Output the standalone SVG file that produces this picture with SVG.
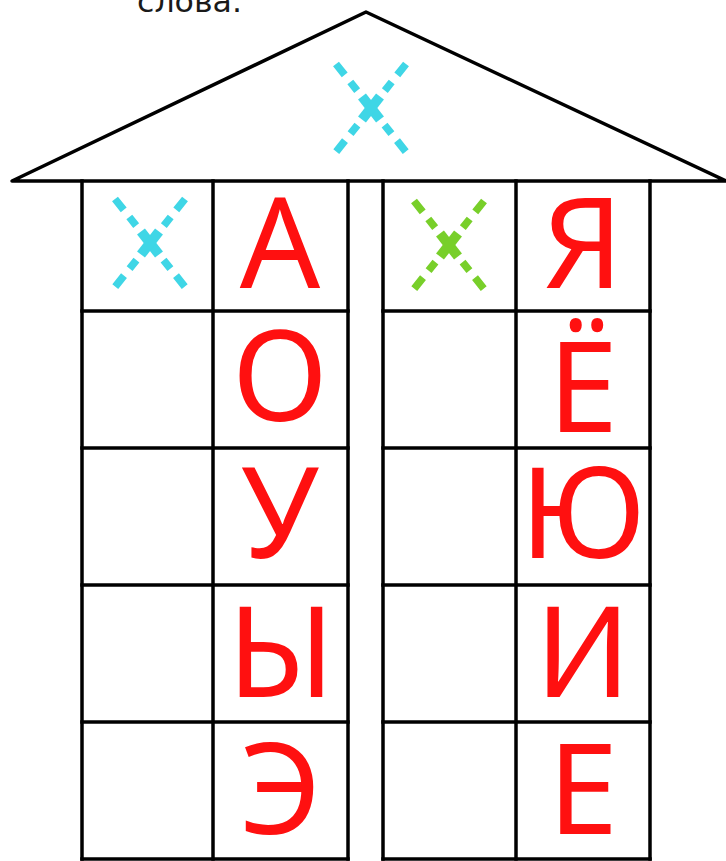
<svg xmlns="http://www.w3.org/2000/svg" xmlns:xlink="http://www.w3.org/1999/xlink" width="726" height="861" viewBox="0 0 726 861">
  <style>
    .ln { stroke: #000; stroke-width: 3.5; fill: none; stroke-linecap: square; }
    .roof { stroke: #000; stroke-width: 3.5; fill: #fff; stroke-linejoin: round; }
    .let { font-family: "Noto Sans", "Open Sans", "DejaVu Sans", sans-serif; font-size: 126px; fill: #ff1010; text-anchor: middle; }
    .cap { font-family: "DejaVu Sans", "Noto Sans", sans-serif; font-size: 30px; fill: #1a1a1a; }
  </style>
  <defs>
    <g id="xmark">
      <line x1="-35" y1="-44" x2="35" y2="44" stroke-width="7.5" stroke-dasharray="14 9 11 44 11 9 14"/>
      <line x1="35" y1="-44" x2="-35" y2="44" stroke-width="7.5" stroke-dasharray="14 9 11 44 11 9 14"/>
      <line x1="-9" y1="-11.5" x2="9" y2="11.5" stroke-width="10"/>
      <line x1="9" y1="-11.5" x2="-9" y2="11.5" stroke-width="10"/>
    </g>
  </defs>
  <rect width="726" height="861" fill="#fff"/>
  <text class="cap" x="137" y="12" textLength="105" lengthAdjust="spacingAndGlyphs">слова.</text>

  <g id="roof">
    <path class="roof" d="M12,181 L366,12 L726,181 Z"/>
    <use xlink:href="#xmark" transform="translate(371,108)" stroke="#3fd6e6"/>
  </g>

  <g id="column-left">
    <line class="ln" x1="82" y1="181" x2="82" y2="859"/>
    <line class="ln" x1="213" y1="181" x2="213" y2="859"/>
    <line class="ln" x1="348" y1="181" x2="348" y2="859"/>
    <line class="ln" x1="82" y1="311" x2="348" y2="311"/>
    <line class="ln" x1="82" y1="448" x2="348" y2="448"/>
    <line class="ln" x1="82" y1="585" x2="348" y2="585"/>
    <line class="ln" x1="82" y1="722" x2="348" y2="722"/>
    <line class="ln" x1="82" y1="859" x2="348" y2="859"/>
  </g>
  <g id="column-right">
    <line class="ln" x1="383" y1="181" x2="383" y2="859"/>
    <line class="ln" x1="516" y1="181" x2="516" y2="859"/>
    <line class="ln" x1="650" y1="181" x2="650" y2="859"/>
    <line class="ln" x1="383" y1="311" x2="650" y2="311"/>
    <line class="ln" x1="383" y1="448" x2="650" y2="448"/>
    <line class="ln" x1="383" y1="585" x2="650" y2="585"/>
    <line class="ln" x1="383" y1="722" x2="650" y2="722"/>
    <line class="ln" x1="383" y1="859" x2="650" y2="859"/>
  </g>

  <g id="cell-x-left"><use xlink:href="#xmark" transform="translate(150,243)" stroke="#3fd6e6"/></g>
  <g id="cell-A"><text class="let" x="280" y="288">А</text></g>
  <g id="cell-O"><text class="let" x="280" y="421">О</text></g>
  <g id="cell-U"><text class="let" x="280" y="558">У</text></g>
  <g id="cell-Y"><text class="let" x="281" y="697">Ы</text></g>
  <g id="cell-E"><text class="let" x="280" y="834">Э</text></g>

  <g id="cell-x-right"><use xlink:href="#xmark" transform="translate(449,245)" stroke="#78cf2a"/></g>
  <g id="cell-Ya"><text class="let" x="583" y="288">Я</text></g>
  <g id="cell-Yo"><text class="let" x="583" y="432">Ё</text></g>
  <g id="cell-Yu"><text class="let" x="583" y="558">Ю</text></g>
  <g id="cell-I"><text class="let" x="583" y="697">И</text></g>
  <g id="cell-Ye"><text class="let" x="583" y="834">Е</text></g>

  <g id="connectors"/>
</svg>
